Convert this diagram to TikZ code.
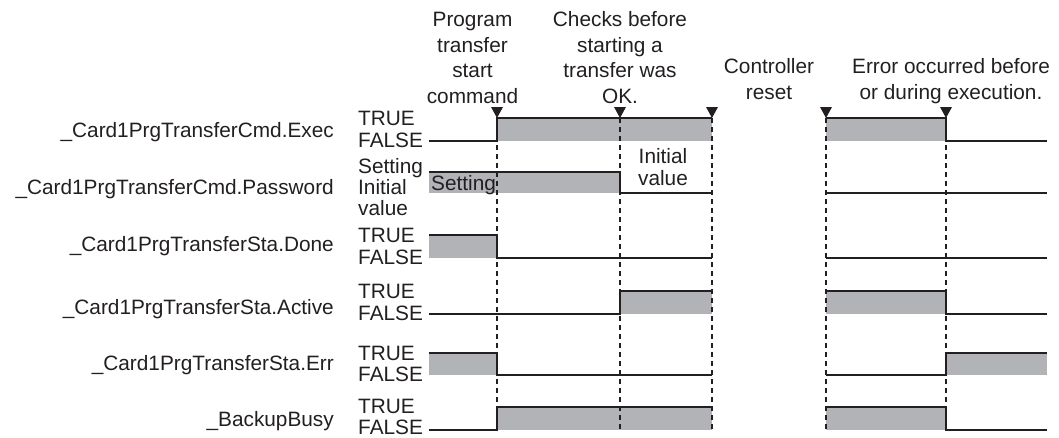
\documentclass[tikz,border=0pt]{standalone}
\usepackage{fontspec}
\setmainfont{Liberation Sans}
\usepackage{xcolor}
\definecolor{ink}{RGB}{35,31,32}
\definecolor{busy}{RGB}{178,179,183}

\begin{document}
\begin{tikzpicture}[
x=1pt, y=-1pt,
font=\fontsize{20.8}{25.4}\selectfont,
every node/.style={inner sep=0pt, text=ink},
sig/.style={
draw=ink,
line width=2.6pt
},
level/.style={fill=busy},
guide/.style={
draw=ink,
line width=1.5pt,
dash pattern=on 5pt off 4pt
},
trig/.style={fill=ink},
signame/.style={anchor=base east},
state/.style={
anchor=base west,
align=left,
font=\fontsize{20.8}{21}\selectfont
},
note/.style={
anchor=base,
align=center
}
]

\useasboundingbox (0,0) rectangle (1059,437);

% gray levels
\fill[level] (497,118) rectangle (712,141);
\fill[level] (826,118) rectangle (946,141);
\fill[level] (429,172) rectangle (620,193);
\fill[level] (429,235) rectangle (497,258);
\fill[level] (620,291) rectangle (712,314);
\fill[level] (826,291) rectangle (946,314);
\fill[level] (429,353) rectangle (497,375);
\fill[level] (946,353) rectangle (1047,375);
\fill[level] (497,407) rectangle (712,430);
\fill[level] (826,407) rectangle (946,430);

% timing guides
\foreach \t in {497,620,712,826,946}{
\draw[guide] (\t,118) -- (\t,431);
\fill[trig] (\t-6,107) -- (\t+6,107) -- (\t,118) -- cycle;
}

% signals
\draw[sig] (429,141) -| (497,118) -- (712,118);
\draw[sig] (826,118) -| (946,141) -- (1047,141);

\draw[sig] (429,172) -| (620,193) -- (712,193);
\draw[sig] (826,193) -- (1047,193);

\draw[sig] (429,235) -| (497,258) -- (712,258);
\draw[sig] (826,258) -- (1047,258);

\draw[sig] (429,314) -| (620,291) -- (712,291);
\draw[sig] (826,291) -| (946,314) -- (1047,314);

\draw[sig] (429,353) -| (497,375) -- (712,375);
\draw[sig] (826,375) -| (946,353) -- (1047,353);

\draw[sig] (429,430) -| (497,407) -- (712,407);
\draw[sig] (826,407) -| (946,430) -- (1047,430);

% variable names
\node[signame] (exec) at (334,137) {\_Card1PrgTransferCmd.Exec};
\node[signame] (pass) at (334,194) {\_Card1PrgTransferCmd.Password};
\node[signame] (done) at (334,251) {\_Card1PrgTransferSta.Done};
\node[signame] (active) at (334,314) {\_Card1PrgTransferSta.Active};
\node[signame] (err) at (334,370) {\_Card1PrgTransferSta.Err};
\node[signame] (busy) at (334,426) {\_BackupBusy};

% values
\foreach \tb/\fb/\n in {125/147/exec, 242/264/done, 298/320/active, 360/381/err, 413/434.5/busy}{
\node[state] (\n-t) at (358,\tb) {TRUE};
\node[state] (\n-f) at (358,\fb) {FALSE};
}
\node[state] (pass-v) at (358,215) {Setting\\Initial\\value};
\node[anchor=base west] (setval) at (431,190) {Setting};
\node[note, font=\fontsize{20.8}{22}\selectfont] (initval) at (663,185) {Initial\\value};

% events
\node[note] (start) at (472.5,103) {Program\\transfer\\start\\command};
\node[note] (check) at (620,103) {Checks before\\starting a\\transfer was\\OK.};
\node[note] (reset) at (769,99) {Controller\\reset};
\node[note] (error) at (951,99) {Error occurred before\\or during execution.};

\end{tikzpicture}
\end{document}
